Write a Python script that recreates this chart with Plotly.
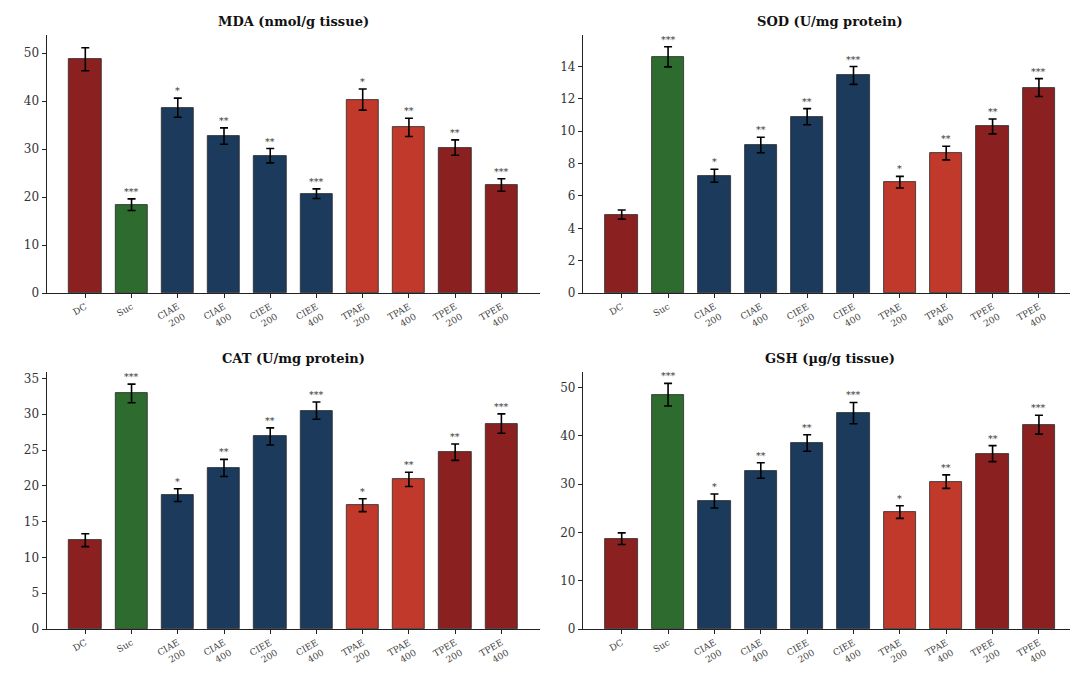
import plotly.graph_objects as go

groups = ["DC", "Suc", "CIAE<br>200", "CIAE<br>400", "CIEE<br>200", "CIEE<br>400",
          "TPAE<br>200", "TPAE<br>400", "TPEE<br>200", "TPEE<br>400"]
bar_colors = ["#8b2020", "#2e6b2e", "#1b3a5c", "#1b3a5c", "#1b3a5c", "#1b3a5c",
              "#c0392b", "#c0392b", "#8b2020", "#8b2020"]

mda_mean = [48.7, 18.4, 38.6, 32.7, 28.6, 20.7, 40.3, 34.5, 30.3, 22.5]
mda_err = [2.4, 1.2, 2.0, 1.7, 1.5, 1.0, 2.2, 1.9, 1.6, 1.3]
mda_sig = ["", "***", "*", "**", "**", "***", "*", "**", "**", "***"]

sod_mean = [4.85, 14.6, 7.25, 9.15, 10.9, 13.45, 6.85, 8.65, 10.3, 12.7]
sod_err = [0.28, 0.62, 0.4, 0.48, 0.5, 0.55, 0.36, 0.42, 0.46, 0.55]
sod_sig = ["", "***", "*", "**", "**", "***", "*", "**", "**", "***"]

cat_mean = [12.4, 32.9, 18.7, 22.5, 26.9, 30.5, 17.3, 20.9, 24.7, 28.7]
cat_err = [0.9, 1.3, 0.9, 1.2, 1.2, 1.2, 0.9, 1.0, 1.15, 1.35]
cat_sig = ["", "***", "*", "**", "**", "***", "*", "**", "**", "***"]

gsh_mean = [18.7, 48.5, 26.5, 32.8, 38.5, 44.7, 24.2, 30.5, 36.3, 42.3]
gsh_err = [1.2, 2.35, 1.45, 1.6, 1.7, 2.2, 1.3, 1.4, 1.65, 1.95]
gsh_sig = ["", "***", "*", "**", "**", "***", "*", "**", "**", "***"]

panels = [
    ("MDA (nmol/g tissue)", mda_mean, mda_err, mda_sig, [0, 53.75], 10),
    ("SOD (U/mg protein)", sod_mean, sod_err, sod_sig, [0, 15.95], 2),
    ("CAT (U/mg protein)", cat_mean, cat_err, cat_sig, [0, 35.9], 5),
    ("GSH (\u00b5g/g tissue)", gsh_mean, gsh_err, gsh_sig, [0, 53.2], 10),
]

W, H = 1070, 677
x_domains = [[46.7 / W, 540 / W], [583 / W, 1.0], [46.7 / W, 540 / W], [583 / W, 1.0]]
y_domains = [[(H - 293) / H, (H - 35) / H], [(H - 293) / H, (H - 35) / H],
             [(H - 629) / H, (H - 372) / H], [(H - 629) / H, (H - 372) / H]]
x_ranges = [[-0.835, 9.835], [-0.835, 9.67], [-0.835, 9.835], [-0.835, 9.67]]
panel_width = (540 - 46.7) / W

serif = "DejaVu Serif"
fig = go.Figure()
annotations = []
idx = list(range(len(groups)))

for i, (title, mean, err, sig, yr, dt) in enumerate(panels):
    n = "" if i == 0 else str(i + 1)
    xa, ya = "x" + n, "y" + n
    fig.add_trace(go.Bar(
        x=idx, y=mean, width=0.7,
        marker=dict(color=bar_colors, line=dict(color="#2a2a2a", width=0.8)),
        error_y=dict(type="data", array=err, visible=True, color="black",
                     thickness=1.6, width=4),
        xaxis=xa, yaxis=ya, showlegend=False, hoverinfo="skip",
    ))
    fig.update_layout({
        "xaxis" + n: dict(
            domain=x_domains[i], range=x_ranges[i], anchor=ya, automargin=False,
            tickmode="array", tickvals=idx, ticktext=groups, tickangle=-30,
            tickfont=dict(family=serif, size=9, color="#444"),
            showline=True, linecolor="#222", linewidth=1.3, ticks="outside",
            ticklen=4, tickcolor="#222", showgrid=False, zeroline=False,
        ),
        "yaxis" + n: dict(
            domain=y_domains[i], range=yr, anchor=xa, dtick=dt, automargin=False,
            tickfont=dict(family=serif, size=12, color="#333"),
            showline=True, linecolor="#222", linewidth=1.3, ticks="outside",
            ticklen=4, tickcolor="#222", showgrid=False, zeroline=False,
        ),
    })
    x0 = x_domains[i][0]
    annotations.append(dict(
        text="<b>" + title + "</b>", xref="paper", yref="paper",
        x=x0 + panel_width / 2, y=y_domains[i][1] + 4 / H,
        xanchor="center", yanchor="bottom", showarrow=False,
        font=dict(family=serif, size=13, color="#111"),
    ))
    for j, s in enumerate(sig):
        if s:
            annotations.append(dict(
                text=s, xref=xa, yref=ya, x=j, y=mean[j] + err[j],
                xanchor="center", yanchor="bottom", showarrow=False,
                font=dict(family=serif, size=9.5, color="#333"),
            ))

fig.update_layout(
    width=W, height=H, margin=dict(l=0, r=0, t=0, b=0, autoexpand=False),
    paper_bgcolor="white", plot_bgcolor="white",
    annotations=annotations, bargap=0,
)
fig.write_html("out.html")
